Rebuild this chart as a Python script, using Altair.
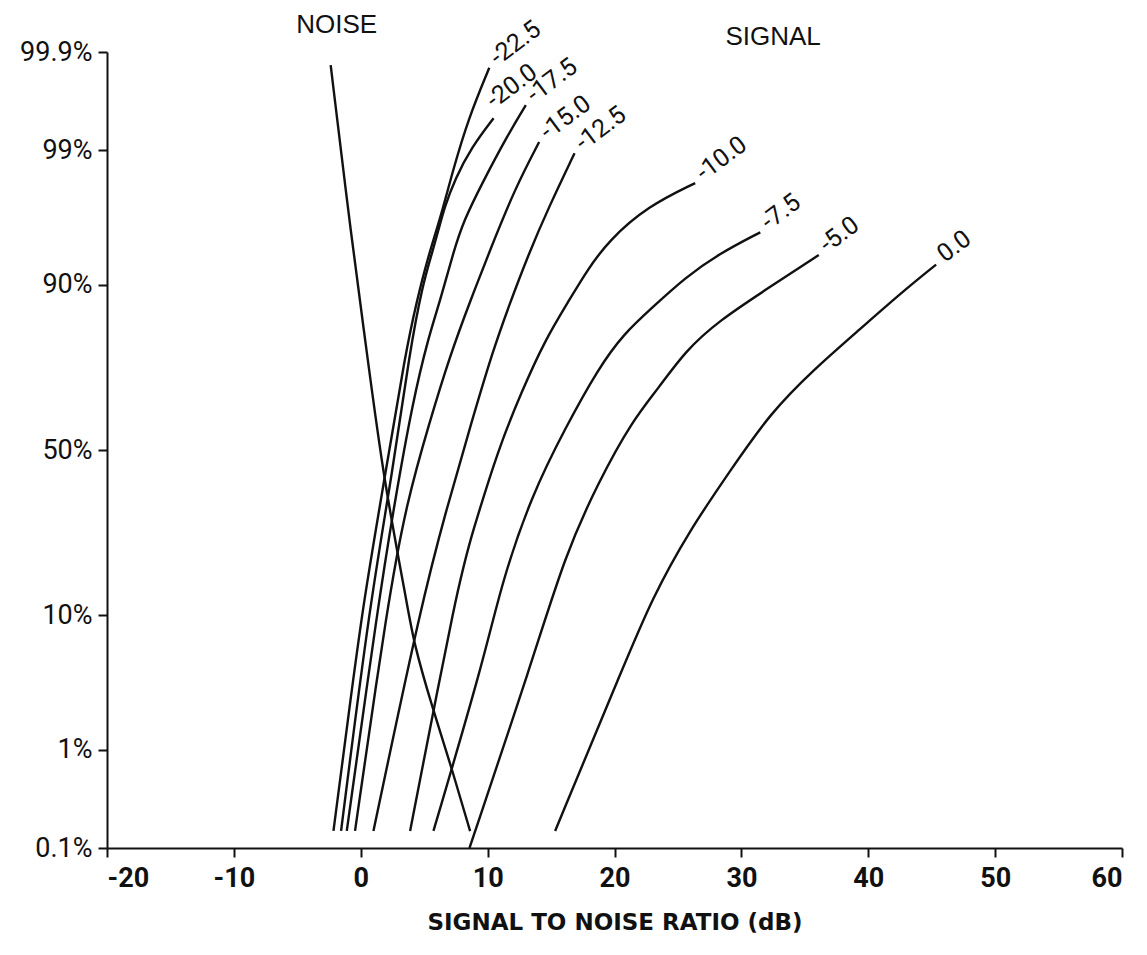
import altair as alt
import pandas as pd
from statistics import NormalDist

ND = NormalDist()

# ---- data: x = signal-to-noise ratio (dB), p = cumulative percent ----
SIG_NAMES = ["-22.5", "-20.0", "-17.5", "-15.0", "-12.5", "-10.0", "-7.5", "-5.0", "0.0"]

S225_X = [-2.15, -0.97, 0.21, 1.89, 3.55, 4.42, 5.21, 6.31, 7.26, 8.49, 10.13]
S225_P = [0.155, 1.96, 11.9, 41.5, 77.9, 87.6, 92.9, 96.5, 98.5, 99.5, 99.85]

S200_X = [-1.55, 0.73, 2.44, 3.86, 4.89, 5.60, 6.15, 6.59, 7.44, 8.75, 10.47]
S200_P = [0.155, 11.9, 41.5, 77.9, 90.1, 93.6, 95.7, 97.0, 98.24, 99.07, 99.50]

S175_X = [-1.10, 1.40, 2.68, 4.10, 5.36, 6.25, 7.33, 8.12, 9.54, 11.65, 13.01]
S175_P = [0.155, 11.9, 34.4, 64.7, 81.2, 87.6, 93.9, 96.25, 98.06, 99.30, 99.63]

S150_X = [-0.45, 2.13, 3.63, 5.44, 7.02, 8.62, 10.17, 12.17, 14.06]
S150_P = [0.155, 11.9, 34.4, 58.8, 76.7, 87.6, 93.9, 97.9, 99.16]

S125_X = [1.00, 4.81, 6.70, 8.75, 10.41, 11.67, 13.23, 14.80, 16.85]
S125_P = [0.155, 11.9, 31.6, 58.8, 77.9, 86.8, 93.6, 97.0, 98.94]

S100_X = [3.89, 7.70, 8.75, 10.86, 12.70, 14.48, 16.38, 17.82, 19.53, 22.66, 26.36]
S100_P = [0.155, 15.3, 25.5, 50.6, 67.6, 80.1, 87.6, 91.8, 94.8, 97.1, 98.09]

S075_X = [5.73, 9.65, 11.12, 13.49, 16.11, 18.75, 20.71, 22.95, 25.58, 28.21, 31.49]
S075_P = [0.155, 4.97, 15.3, 36.4, 56.7, 73.8, 81.6, 86.5, 90.97, 93.6, 95.45]

S050_X = [8.57, 13.49, 16.11, 18.75, 21.37, 23.48, 25.58, 28.21, 32.15, 36.10]
S050_P = [0.1, 4.97, 20.8, 40.3, 58.8, 68.5, 77.9, 84.2, 89.6, 93.5]

S000_X = [15.32, 20.84, 22.95, 25.84, 29.26, 32.26, 35.73, 39.35, 42.67, 45.35]
S000_P = [0.155, 4.97, 12.4, 26.3, 44.4, 61.2, 73.5, 82.6, 89.0, 92.5]

NOISE_X = [-2.37, -0.71, 0.47, 1.79, 3.63, 4.16, 5.60, 7.04, 8.62]
NOISE_P = [99.86, 94.8, 77.9, 41.3, 11.9, 6.78, 2.35, 0.76, 0.154]

X_TICKS = [-20, -10, 0, 10, 20, 30, 40, 50, 60]
P_TICKS = [0.1, 1, 10, 50, 90, 99, 99.9]
P_TICK_LABELS = ["0.1%", "1%", "10%", "50%", "90%", "99%", "99.9%"]

NOTE_TEXT = ["NOISE", "SIGNAL"]
NOTE_X = [-1.9, 32.5]

SIG_X = [S225_X, S200_X, S175_X, S150_X, S125_X, S100_X, S075_X, S050_X, S000_X]
SIG_P = [S225_P, S200_P, S175_P, S150_P, S125_P, S100_P, S075_P, S050_P, S000_P]


def z(p):
    return ND.inv_cdf(p / 100.0)


rows = []
for name, xs, ps in zip(SIG_NAMES, SIG_X, SIG_P):
    for i, (x, p) in enumerate(zip(xs, ps)):
        rows.append({"curve": name, "i": i, "db": x, "z": z(p)})
for i, (x, p) in enumerate(zip(NOISE_X, NOISE_P)):
    rows.append({"curve": "NOISE", "i": i, "db": x, "z": z(p)})
lines_df = pd.DataFrame(rows)

lab_df = pd.DataFrame(
    {"curve": SIG_NAMES, "db": [xs[-1] for xs in SIG_X], "z": [z(ps[-1]) for ps in SIG_P]}
)
lab_main = lab_df[lab_df["curve"] != "-20.0"]
lab_20 = lab_df[lab_df["curve"] == "-20.0"]

ZT = [z(p) for p in P_TICKS]
ZMIN, ZMAX = ZT[0], ZT[-1]

label_expr = ""
for k in range(len(ZT) - 1):
    mid = (ZT[k] + ZT[k + 1]) / 2
    label_expr += f"datum.value < {mid:.4f} ? '{P_TICK_LABELS[k]}' : "
label_expr += f"'{P_TICK_LABELS[-1]}'"

FONT = "Roboto"

xenc = alt.X(
    "db:Q",
    scale=alt.Scale(domain=[X_TICKS[0], X_TICKS[-1]], nice=False, zero=False),
    axis=alt.Axis(
        values=X_TICKS,
        labelExpr="toString(datum.value)",
        title="SIGNAL TO NOISE RATIO (dB)",
        titleFont="DejaVu Sans",
        titleFontSize=23,
        titleFontWeight="bold",
        titleColor="#111",
        titlePadding=20,
        labelFont=FONT,
        labelFontSize=27,
        labelFontWeight="bold",
        labelColor="#111",
        labelPadding=8,
        grid=False,
        tickSize=9,
    ),
)
yenc = alt.Y(
    "z:Q",
    scale=alt.Scale(domain=[ZMIN, ZMAX], nice=False, zero=False),
    axis=alt.Axis(
        values=ZT,
        labelExpr=label_expr,
        title=None,
        labelFont=FONT,
        labelFontSize=27,
        labelColor="#111",
        labelPadding=6,
        grid=False,
        tickSize=9,
    ),
)

lines = (
    alt.Chart(lines_df)
    .mark_line(color="#111", strokeWidth=2.4, interpolate="basis", clip=True)
    .encode(x=xenc, y=yenc, detail="curve:N", order="i:Q")
)

labels = (
    alt.Chart(lab_main)
    .mark_text(
        angle=323, align="left", baseline="middle", dx=8, dy=-4,
        font=FONT, fontSize=25, color="#111",
    )
    .encode(x="db:Q", y="z:Q", text="curve:N")
)
labels_20 = (
    alt.Chart(lab_20)
    .mark_text(
        angle=323, align="left", baseline="middle", dx=6, dy=-15,
        font=FONT, fontSize=25, color="#111",
    )
    .encode(x="db:Q", y="z:Q", text="curve:N")
)

notes_df = pd.DataFrame({"t": NOTE_TEXT, "db": NOTE_X})
notes_noise = (
    alt.Chart(notes_df.iloc[[0]])
    .mark_text(font="Liberation Sans", fontSize=26, color="#111", baseline="middle")
    .encode(x="db:Q", y=alt.value(-27), text="t:N")
)
notes_signal = (
    alt.Chart(notes_df.iloc[[1]])
    .mark_text(font="Liberation Sans", fontSize=26, color="#111", baseline="middle")
    .encode(x="db:Q", y=alt.value(-15), text="t:N")
)

chart = (
    alt.layer(lines, labels, labels_20, notes_noise, notes_signal)
    .properties(
        width=1015,
        height=796,
        autosize=alt.AutoSizeParams(type="none"),
        padding={"left": 99, "top": 44, "right": 17, "bottom": 90},
        background="white",
    )
    .configure_view(strokeWidth=0)
    .configure_axis(
        domainColor="#111", domainWidth=2, tickColor="#111", tickWidth=2
    )
)

chart.save("out.html", embed_options={"renderer": "svg", "actions": False})
